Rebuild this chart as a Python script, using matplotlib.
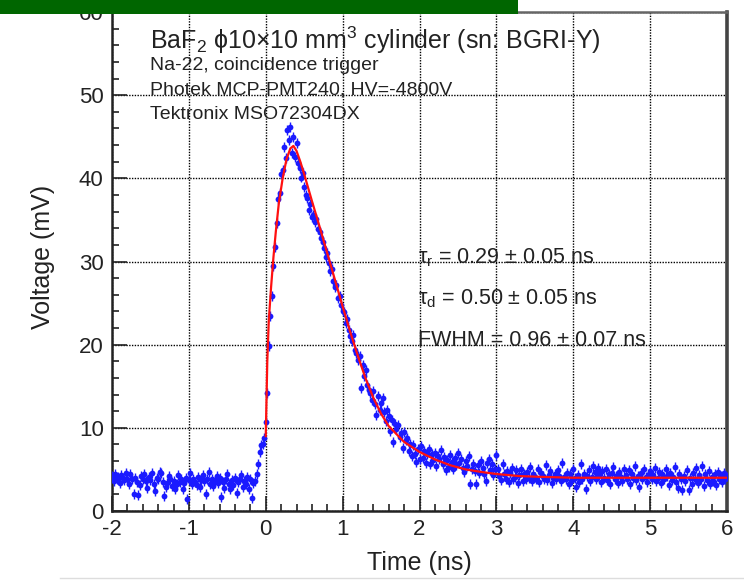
import numpy as np
import matplotlib
matplotlib.use('Agg')
import matplotlib.pyplot as plt
from matplotlib.patches import Rectangle
from matplotlib.lines import Line2D
from matplotlib.ticker import MultipleLocator

plt.rcParams['font.family'] = ['Liberation Sans', 'DejaVu Sans']
plt.rcParams['mathtext.fontset'] = 'custom'
plt.rcParams['mathtext.rm'] = 'Liberation Sans'
plt.rcParams['mathtext.it'] = 'Liberation Sans:italic'
plt.rcParams['axes.unicode_minus'] = False

# waveform sampled every 0.02 ns from -2 ns to 6 ns
t_start = -2.0
t_step = 0.02
voltage = [
    # -2.00 .. -0.16 baseline
    4.2, 3.6, 4.5, 3.9, 4.1, 3.4, 4.3, 4.0, 3.7, 4.6, 3.9, 3.2, 4.4, 3.8, 2.1, 4.0, 3.5, 1.9, 3.1, 4.2,
    3.9, 4.5, 3.6, 2.8, 4.1, 3.7, 4.6, 3.3, 2.4, 4.0, 3.8, 4.7, 4.6, 3.5, 1.8, 2.9, 3.4, 4.2, 3.9, 3.0,
    3.6, 2.7, 3.2, 4.3, 3.5, 3.8, 2.6, 3.4, 4.0, 1.4, 3.7, 4.6, 3.2, 3.9, 3.5, 3.1, 4.1, 2.9, 3.7, 4.3,
    3.6, 2.0, 3.8, 4.7, 3.3, 3.9, 3.0, 3.6, 4.2, 3.4, 4.0, 1.7, 3.5, 2.8, 3.9, 4.4, 3.2, 2.6, 3.7, 3.1,
    4.0, 2.2, 3.5, 3.8, 4.3, 2.9, 3.6, 3.3, 4.1, 2.7, 3.9, 1.6, 3.4,
    # -0.14 .. -0.02 onset
    3.6, 4.5, 5.6, 7.1, 7.9, 8.1, 8.8,
    # 0.00 .. 0.60 rise and peak
    10.7, 14.2, 19.8, 23.5, 25.8, 29.5, 31.8, 34.6, 37.5, 38.2, 40.5, 41.0, 43.8, 42.5, 45.8, 44.6,
    46.2, 43.1, 45.0, 42.6, 44.2, 41.9, 41.3, 40.1, 40.6, 38.9, 38.0, 37.6, 36.2, 36.9, 35.4,
    # 0.62 .. 1.00
    35.6, 34.8, 35.1, 33.9, 33.6, 32.8, 32.4, 31.6, 30.6, 31.0, 29.8, 28.9, 29.1, 27.6, 26.9, 27.2,
    25.6, 25.9, 24.8, 24.1,
    # 1.02 .. 2.00
    23.9, 22.6, 23.1, 21.8, 21.0, 20.4, 21.2, 19.3, 19.0, 18.1,
    18.6, 14.8, 17.5, 16.2, 17.0, 15.1, 14.6, 14.2, 13.3, 14.4,
    12.9, 11.5, 13.8, 12.2, 13.0, 13.6, 11.9, 10.8, 12.1, 11.4,
    9.6, 10.9, 8.3, 10.5, 9.8, 10.3, 8.9, 9.4, 7.6, 9.5,
    8.5, 8.8, 7.2, 8.1, 6.6, 7.9, 6.9, 5.9, 7.4, 6.3,
    # 2.02 .. 3.00
    7.8, 6.4, 7.2, 5.8, 6.9, 7.5, 5.6, 6.8, 6.1, 7.0,
    5.4, 6.6, 6.2, 7.3, 5.7, 6.5, 4.9, 6.1, 5.3, 6.7,
    5.9, 5.0, 6.4, 5.5, 7.0, 5.8, 6.3, 5.2, 4.7, 6.0,
    5.4, 6.6, 3.3, 5.1, 5.7, 4.8, 3.3, 5.5, 4.6, 6.0,
    5.2, 4.4, 3.6, 5.8, 6.3, 4.9, 5.6, 4.3, 5.0, 6.7,
    # 3.02 .. 6.00 tail
    5.1, 4.2, 3.7, 5.6, 4.4, 3.9, 4.8, 3.5, 4.6, 5.2, 3.8, 4.1, 4.9, 3.4, 4.3, 5.0, 3.6, 4.5, 3.9, 4.7,
    4.0, 5.3, 3.6, 4.4, 4.1, 3.8, 5.0, 3.5, 4.6, 4.2, 3.9, 5.5, 3.7, 4.3, 4.8, 3.4, 4.0, 4.5, 3.8, 4.9,
    4.2, 3.6, 5.8, 4.1, 3.9, 4.6, 3.3, 4.4, 3.7, 5.1, 4.0, 2.9, 4.3, 3.5, 5.6, 3.8, 4.5, 2.7, 4.2, 4.9,
    3.6, 4.1, 5.4, 4.7, 3.9, 5.2, 4.3, 3.5, 4.8, 4.0, 5.0, 3.7, 4.4, 3.2, 4.6, 5.3, 3.9, 4.2, 3.4, 4.7,
    4.1, 3.6, 5.1, 4.3, 3.8, 4.9, 3.3, 4.5, 4.0, 5.4, 3.7, 4.2, 2.9, 4.6, 3.9, 5.0, 4.1, 3.5, 4.4, 4.8,
    3.8, 4.3, 5.2, 3.6, 4.0, 4.7, 3.4, 4.5, 3.9, 5.0, 4.2, 3.1, 4.6, 3.7, 4.1, 5.3, 3.5, 2.8, 4.4, 3.8,
    2.5, 4.2, 3.6, 4.9, 2.5, 4.0, 3.3, 4.6, 3.8, 5.2, 3.4, 4.3, 3.9, 5.4, 3.0, 4.5, 3.7, 4.8, 3.2, 4.1,
    3.6, 4.4, 3.1, 4.7, 3.9, 4.2, 3.5, 4.6, 3.8, 4.3,
]
volt_err = 0.6
time = np.round(t_start + t_step * np.arange(len(voltage)), 2)

# fit curve
fit_t = [0.0, 0.02, 0.04, 0.07, 0.10, 0.13, 0.17, 0.22, 0.27, 0.32, 0.36, 0.40, 0.45, 0.50,
         0.60, 0.70, 0.80, 0.90, 1.00, 1.10, 1.20, 1.30, 1.40, 1.50, 1.60, 1.80, 2.00, 2.20,
         2.40, 2.60, 2.80, 3.00, 3.30, 3.60, 4.00, 5.00, 6.00]
fit_v = [9.0, 18.0, 23.0, 27.0, 30.5, 33.5, 37.0, 40.0, 42.3, 43.6, 43.9, 43.3, 42.0, 40.5,
         37.3, 34.2, 31.0, 27.8, 24.6, 21.5, 18.6, 15.9, 13.6, 11.7, 10.2, 8.3, 7.1, 6.2,
         5.5, 5.0, 4.7, 4.45, 4.2, 4.1, 4.0, 4.0, 4.0]

info_lines = ['Na-22, coincidence trigger', 'Photek MCP-PMT240, HV=-4800V', 'Tektronix MSO72304DX']
fit_lines = [r'τ$_\mathrm{r}$ = 0.29 ± 0.05 ns', r'τ$_\mathrm{d}$ = 0.50 ± 0.05 ns', 'FWHM = 0.96 ± 0.07 ns']

W, H = 744, 580
fig = plt.figure(figsize=(W / 100, H / 100), dpi=100)
ax = fig.add_axes([112 / W, 1 - 511 / H, (727 - 112) / W, (511 - 12) / H])

ax.errorbar(time, voltage, yerr=volt_err, fmt='o', color='#1a1aff', ms=4.2, mew=0, elinewidth=1.0,
            capsize=0, zorder=3)
ax.plot(fit_t, fit_v, color='#ff1010', lw=1.6, zorder=4)

ax.set_xlim(-2, 6)
ax.set_ylim(0, 60)
ax.xaxis.set_major_locator(MultipleLocator(1))
ax.xaxis.set_minor_locator(MultipleLocator(0.2))
ax.yaxis.set_major_locator(MultipleLocator(10))
ax.yaxis.set_minor_locator(MultipleLocator(2))
ax.tick_params(which='both', direction='in', top=False, right=False, labelsize=16, colors='#222222')
ax.tick_params(which='major', length=11, width=1.2, pad=6)
ax.tick_params(which='minor', length=5, width=1.2)
ax.grid(True, which='major', color='black', linestyle=(0, (1, 1)), linewidth=1.0)

for side in ['left', 'bottom']:
    ax.spines[side].set_linewidth(1.8)
    ax.spines[side].set_color('#222222')
ax.spines['right'].set_linewidth(2.6)
ax.spines['right'].set_color('#444444')
ax.spines['top'].set_linewidth(1.8)
ax.spines['top'].set_color('#666666')

ax.set_xlabel('Time (ns)', fontsize=18, color='#222222', labelpad=8)
ax.set_ylabel('Voltage (mV)', fontsize=18, color='#222222')
ax.yaxis.set_label_coords(-0.093, 0.51)

ax.text(150 / W, 1 - 40 / H, 'BaF$_2$ ϕ10×10 mm$^3$ cylinder (sn: BGRI-Y)', transform=fig.transFigure,
        fontsize=18, va='center', ha='left', color='#222222', zorder=6)
for i, line in enumerate(info_lines):
    ax.text(150 / W, 1 - (66 + 24 * i) / H, line, transform=fig.transFigure,
            fontsize=14, va='center', ha='left', color='#222222', zorder=6)
for i, line in enumerate(fit_lines):
    ax.text(418 / W, 1 - (258 + 41 * i) / H, line, transform=fig.transFigure,
            fontsize=15.5, va='center', ha='left', color='#222222', zorder=6)

# slide header strip and bottom rule
fig.patches.append(Rectangle((0, 1 - 14 / H), 518 / W, 14 / H, transform=fig.transFigure,
                             facecolor='#006600', edgecolor='none', zorder=10))
fig.lines.append(Line2D([60 / W, 1], [1 - 578 / H, 1 - 578 / H], transform=fig.transFigure,
                        color='#dddddd', lw=1))

fig.savefig('out.png', dpi=100)
